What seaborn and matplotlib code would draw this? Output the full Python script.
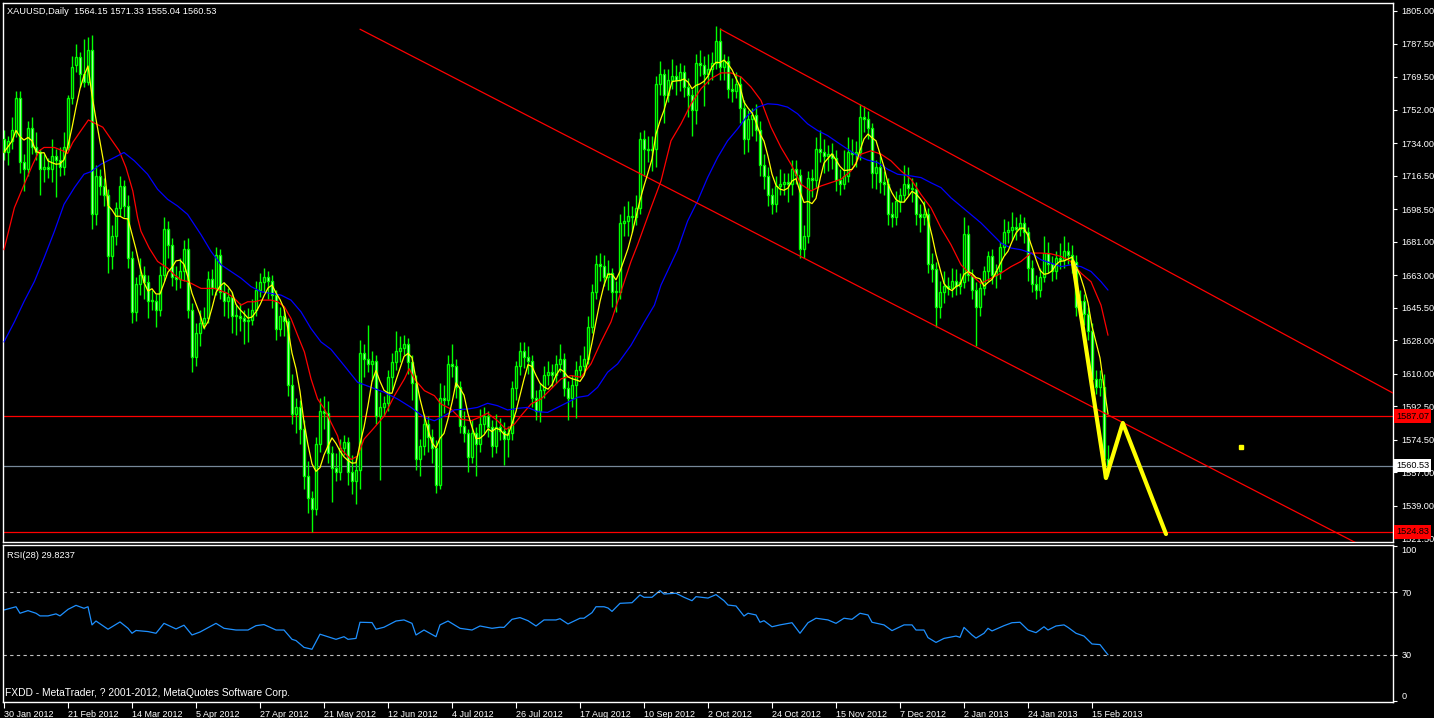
import numpy as np
import pandas as pd
import matplotlib
matplotlib.use("Agg")
import matplotlib.pyplot as plt
import matplotlib.transforms as mtransforms
import seaborn as sns

sns.set_theme(style="dark", rc={"axes.facecolor": "black", "figure.facecolor": "black",
                                "axes.edgecolor": "white", "axes.grid": False})
plt.rcParams['font.family'] = ['Liberation Sans', 'DejaVu Sans']

LIME = '#00ff00'

# XAUUSD daily candles, bar 0 = 30 Jan 2012 ... bar 276 = 21 Feb 2013
opens = [1736, 1729, 1735, 1740, 1758, 1724, 1720, 1742, 1732, 1729,
         1720, 1721, 1720, 1727, 1725, 1721, 1732, 1758, 1776, 1780,
         1771, 1767, 1784, 1696, 1716, 1711, 1706, 1673, 1684, 1699,
         1711, 1700, 1672, 1643, 1658, 1663, 1659, 1649, 1649, 1644,
         1663, 1688, 1679, 1662, 1661, 1665, 1677, 1644, 1619, 1632,
         1637, 1640, 1661, 1656, 1674, 1654, 1649, 1651, 1641, 1641,
         1640, 1638, 1639, 1644, 1655, 1659, 1662, 1660, 1652, 1634,
         1641, 1638, 1604, 1588, 1592, 1580, 1555, 1543, 1537, 1572,
         1590, 1589, 1567, 1559, 1557, 1570, 1573, 1557, 1552, 1558,
         1621, 1618, 1615, 1617, 1587, 1592, 1594, 1608, 1616, 1622,
         1624, 1626, 1616, 1605, 1564, 1571, 1583, 1576, 1570, 1550,
         1597, 1596, 1615, 1614, 1603, 1582, 1578, 1565, 1578, 1572,
         1583, 1587, 1581, 1571, 1581, 1579, 1575, 1578, 1602, 1614,
         1622, 1619, 1617, 1597, 1590, 1601, 1609, 1611, 1609, 1615,
         1618, 1602, 1597, 1604, 1612, 1614, 1618, 1635, 1654, 1669,
         1668, 1662, 1664, 1654, 1654, 1691, 1692, 1695, 1694, 1699,
         1736, 1731, 1730, 1731, 1766, 1771, 1760, 1768, 1770, 1768,
         1772, 1764, 1760, 1752, 1777, 1776, 1771, 1774, 1777, 1789,
         1775, 1778, 1763, 1762, 1766, 1753, 1736, 1747, 1749, 1741,
         1722, 1716, 1706, 1701, 1711, 1712, 1713, 1712, 1720, 1717,
         1677, 1684, 1715, 1714, 1731, 1729, 1727, 1728, 1726, 1714,
         1712, 1716, 1729, 1728, 1729, 1748, 1747, 1742, 1718, 1721,
         1713, 1712, 1696, 1694, 1703, 1706, 1712, 1710, 1709, 1696,
         1694, 1696, 1669, 1666, 1646, 1654, 1657, 1656, 1660, 1657,
         1659, 1685, 1663, 1655, 1646, 1656, 1665, 1673, 1663, 1665,
         1678, 1686, 1687, 1689, 1688, 1691, 1686, 1667, 1658, 1655,
         1662, 1675, 1669, 1665, 1672, 1671, 1676, 1674, 1670, 1646,
         1649, 1642, 1633, 1607, 1603, 1603, 1564.15]
highs = [1741, 1738, 1748, 1762, 1762, 1728, 1746, 1748, 1740, 1731,
         1728, 1726, 1736, 1731, 1732, 1740, 1760, 1781, 1787, 1783,
         1790, 1791, 1792, 1722, 1720, 1715, 1709, 1690, 1702, 1716,
         1714, 1706, 1676, 1662, 1672, 1668, 1663, 1655, 1653, 1668,
         1694, 1692, 1683, 1668, 1672, 1682, 1683, 1648, 1637, 1644,
         1646, 1665, 1666, 1678, 1677, 1659, 1656, 1654, 1647, 1648,
         1644, 1645, 1650, 1660, 1664, 1667, 1665, 1663, 1655, 1646,
         1644, 1640, 1610, 1597, 1596, 1585, 1563, 1547, 1576, 1597,
         1598, 1595, 1571, 1567, 1575, 1577, 1576, 1566, 1565, 1628,
         1626, 1636, 1622, 1620, 1600, 1598, 1612, 1621, 1633, 1630,
         1631, 1629, 1620, 1609, 1575, 1588, 1587, 1580, 1574, 1605,
         1604, 1620, 1626, 1618, 1606, 1590, 1580, 1585, 1581, 1591,
         1592, 1590, 1585, 1588, 1586, 1584, 1582, 1606, 1617, 1627,
         1627, 1625, 1620, 1601, 1605, 1614, 1617, 1615, 1620, 1626,
         1621, 1606, 1609, 1617, 1620, 1625, 1641, 1658, 1674, 1675,
         1674, 1671, 1667, 1660, 1696, 1700, 1703, 1700, 1706, 1740,
         1741, 1738, 1738, 1770, 1778, 1774, 1774, 1779, 1776, 1777,
         1776, 1769, 1763, 1782, 1784, 1781, 1782, 1783, 1797, 1796,
         1782, 1781, 1769, 1772, 1770, 1757, 1752, 1753, 1755, 1746,
         1728, 1721, 1710, 1716, 1720, 1718, 1718, 1725, 1725, 1720,
         1690, 1719, 1720, 1737, 1741, 1736, 1733, 1734, 1730, 1720,
         1730, 1737, 1736, 1735, 1755, 1754, 1751, 1745, 1725, 1727,
         1719, 1715, 1702, 1708, 1710, 1722, 1721, 1715, 1713, 1701,
         1703, 1699, 1675, 1670, 1660, 1665, 1662, 1667, 1666, 1664,
         1694, 1690, 1666, 1659, 1660, 1668, 1676, 1677, 1669, 1681,
         1693, 1692, 1697, 1694, 1696, 1694, 1689, 1671, 1663, 1667,
         1684, 1681, 1673, 1676, 1680, 1684, 1681, 1679, 1674, 1655,
         1653, 1646, 1637, 1612, 1612, 1610, 1571.33]
lows = [1725, 1722, 1731, 1737, 1718, 1708, 1716, 1728, 1725, 1706,
        1713, 1715, 1713, 1705, 1716, 1717, 1730, 1755, 1772, 1764,
        1764, 1765, 1688, 1690, 1706, 1700, 1664, 1666, 1679, 1695,
        1694, 1667, 1637, 1638, 1652, 1650, 1640, 1644, 1635, 1641,
        1660, 1672, 1657, 1655, 1656, 1660, 1640, 1611, 1614, 1625,
        1634, 1637, 1652, 1652, 1650, 1641, 1640, 1632, 1631, 1633,
        1626, 1627, 1636, 1641, 1651, 1654, 1650, 1645, 1628, 1630,
        1630, 1598, 1583, 1578, 1572, 1548, 1535, 1525, 1534, 1568,
        1580, 1562, 1541, 1552, 1553, 1566, 1550, 1545, 1540, 1548,
        1608, 1611, 1606, 1583, 1553, 1587, 1590, 1601, 1612, 1616,
        1620, 1610, 1596, 1558, 1555, 1566, 1568, 1562, 1546, 1548,
        1589, 1593, 1608, 1597, 1578, 1573, 1557, 1562, 1555, 1568,
        1578, 1576, 1565, 1567, 1574, 1561, 1565, 1574, 1596, 1609,
        1613, 1610, 1592, 1585, 1584, 1597, 1604, 1603, 1605, 1611,
        1598, 1585, 1592, 1586, 1608, 1610, 1615, 1632, 1650, 1660,
        1657, 1655, 1646, 1643, 1650, 1684, 1684, 1686, 1690, 1696,
        1716, 1724, 1719, 1721, 1760, 1745, 1756, 1763, 1760, 1762,
        1759, 1748, 1738, 1744, 1770, 1754, 1766, 1768, 1774, 1768,
        1768, 1758, 1756, 1758, 1745, 1728, 1729, 1738, 1735, 1716,
        1709, 1700, 1696, 1697, 1706, 1706, 1702, 1706, 1712, 1672,
        1672, 1680, 1705, 1710, 1724, 1718, 1719, 1720, 1708, 1706,
        1709, 1713, 1722, 1721, 1725, 1740, 1736, 1710, 1709, 1707,
        1706, 1690, 1689, 1690, 1697, 1702, 1706, 1702, 1690, 1686,
        1690, 1664, 1659, 1635, 1640, 1648, 1652, 1651, 1652, 1653,
        1656, 1660, 1650, 1625, 1641, 1652, 1660, 1658, 1656, 1661,
        1674, 1680, 1682, 1682, 1684, 1680, 1660, 1654, 1650, 1651,
        1659, 1664, 1660, 1661, 1666, 1667, 1669, 1664, 1641, 1640,
        1636, 1628, 1598, 1599, 1598, 1554, 1555.04]
closes = [1729, 1735, 1741, 1758, 1724, 1720, 1742, 1732, 1729, 1720,
          1721, 1720, 1727, 1725, 1721, 1732, 1758, 1775, 1780, 1771,
          1767, 1784, 1696, 1716, 1711, 1706, 1673, 1684, 1699, 1711,
          1700, 1672, 1643, 1658, 1663, 1659, 1649, 1649, 1644, 1663,
          1688, 1679, 1662, 1661, 1665, 1677, 1644, 1619, 1632, 1637,
          1640, 1661, 1656, 1674, 1654, 1649, 1651, 1641, 1641, 1640,
          1638, 1639, 1644, 1655, 1659, 1662, 1660, 1652, 1634, 1641,
          1638, 1604, 1588, 1592, 1580, 1555, 1543, 1537, 1572, 1590,
          1589, 1567, 1559, 1557, 1570, 1573, 1557, 1552, 1558, 1621,
          1618, 1615, 1617, 1587, 1592, 1594, 1608, 1616, 1622, 1624,
          1626, 1616, 1605, 1564, 1571, 1583, 1576, 1570, 1550, 1597,
          1596, 1615, 1614, 1603, 1582, 1578, 1565, 1578, 1572, 1583,
          1587, 1581, 1571, 1581, 1579, 1575, 1578, 1602, 1614, 1622,
          1619, 1617, 1597, 1590, 1601, 1609, 1611, 1609, 1615, 1618,
          1602, 1597, 1604, 1612, 1614, 1618, 1635, 1654, 1669, 1668,
          1662, 1664, 1654, 1654, 1691, 1692, 1695, 1694, 1699, 1736,
          1731, 1730, 1731, 1766, 1771, 1760, 1768, 1770, 1768, 1772,
          1764, 1760, 1752, 1777, 1776, 1771, 1774, 1777, 1789, 1775,
          1778, 1763, 1762, 1766, 1753, 1736, 1747, 1749, 1741, 1722,
          1716, 1706, 1701, 1711, 1712, 1713, 1712, 1720, 1717, 1677,
          1684, 1715, 1714, 1731, 1729, 1727, 1728, 1726, 1714, 1712,
          1716, 1729, 1728, 1729, 1748, 1747, 1742, 1718, 1721, 1713,
          1712, 1696, 1694, 1703, 1706, 1712, 1710, 1709, 1696, 1694,
          1696, 1669, 1666, 1646, 1654, 1657, 1656, 1660, 1657, 1659,
          1685, 1663, 1655, 1646, 1656, 1665, 1673, 1663, 1665, 1678,
          1686, 1687, 1689, 1688, 1691, 1686, 1667, 1658, 1655, 1662,
          1675, 1669, 1665, 1672, 1671, 1676, 1674, 1670, 1646, 1649,
          1642, 1633, 1607, 1603, 1607, 1564, 1560.53]

# red and blue moving averages, read at sample bars
red_ma_x = [0, 2.6, 4.7, 7.2, 8.8, 10, 12.6, 14.7, 15.9, 17.2, 19.25, 21.1, 23, 24.7, 26.75, 28.8,
            30.5, 32.2, 33.4, 34.25, 36.3, 38.4, 40.9, 42.6, 44.25, 45.9, 49.25, 52.6, 55.9, 57.6,
            59.25, 60.9, 62.6, 64.25, 66.75, 68.4, 70.1, 71.75, 73.4, 75.1, 76.75, 78.4, 80.1, 81.75,
            83.4, 84.25, 86.75, 88.4, 90, 92.6, 95.1, 97.6, 100.1, 101.3, 102.6, 105.1, 107.6, 109.25,
            111.75, 114.25, 116.75, 118.8, 120.9, 123.4, 125.5, 127.6, 129.25, 131.75, 134.25, 136.75,
            139.25, 141.75, 144.25, 146.75, 149.25, 151.75, 154.25, 156.75, 158.4, 161.75, 164.25,
            166.75, 169.25, 171.75, 174.25, 176.75, 179.25, 181.75, 184.25, 186.75, 189.25, 191.75,
            194.25, 196.75, 199.25, 201.75, 204.25, 206.75, 209.25, 211.75, 214.25, 216.75, 219.25,
            221.75, 224.25, 226.75, 229.25, 231.75, 234.25, 236.75, 239.25, 241.75, 244.25, 246.75,
            249.25, 251.75, 254.25, 256.75, 259.25, 261.75, 264.25, 266.75, 269.25, 271.75, 274.25, 276]
red_ma_y = [1676.6, 1699.2, 1710, 1722.6, 1729.8, 1731.6, 1731.6, 1729.8, 1728.4, 1734.3, 1740.7,
            1746.4, 1744.3, 1742.5, 1736.1, 1729.8, 1720.8, 1708.2, 1693.8, 1686.5, 1677.5, 1670.3,
            1666.7, 1663.1, 1660.4, 1659.5, 1655.8, 1655.8, 1653.1, 1650.4, 1646.8, 1648.6, 1648.6,
            1649.5, 1649.5, 1648.6, 1645.9, 1639.6, 1630.6, 1621.6, 1607.2, 1596.3, 1591, 1583.7,
            1576.5, 1569.3, 1563.8, 1565.6, 1574.7, 1581, 1587.3, 1598.1, 1607.1, 1612.6, 1607.1,
            1600.8, 1598.1, 1593.6, 1590.9, 1585.5, 1584.6, 1586.4, 1588.7, 1584.6, 1580, 1582.8,
            1587.3, 1593.6, 1596.3, 1601.7, 1607.1, 1608.9, 1608, 1615.2, 1627, 1637.8, 1654, 1670.3,
            1679.3, 1699.2, 1713.6, 1735.2, 1744.3, 1755, 1763.2, 1768.6, 1771.7, 1771.7, 1769.5,
            1764.1, 1756.9, 1742.5, 1731.6, 1722.6, 1711.8, 1708.2, 1710.9, 1712.7, 1714.5, 1719,
            1728, 1729.8, 1728, 1724.4, 1719, 1714.5, 1706.3, 1699.1, 1688.3, 1679.3, 1668.5, 1663,
            1658.5, 1661.2, 1664, 1667.5, 1670.3, 1674.8, 1674.8, 1674.4, 1673, 1670.3, 1664, 1659.4,
            1646.8, 1630.6]
blue_ma_x = [0, 2.6, 5, 7.6, 10, 12.6, 15, 17.6, 20, 21.75, 24.25, 27.6, 30, 32.6, 35.9, 38.4, 40.9,
             43.4, 45.9, 49.25, 51.75, 54.25, 56.75, 59.25, 61.75, 64.25, 66.75, 69.25, 71.75, 74.25,
             76.75, 79.25, 81.75, 85, 88.4, 91.75, 95.1, 98.4, 101.75, 105.1, 107.6, 110.1, 112.6,
             115.9, 118.4, 120.9, 123.4, 125.9, 128.4, 130.9, 133.4, 135.9, 138.4, 140.9, 143.4, 146,
             148.4, 150.9, 153.4, 156.75, 160.1, 162.6, 164.25, 168.4, 170.9, 173.4, 175.9, 178.4,
             180.9, 183.4, 185.9, 188.4, 190.9, 193.4, 195.9, 198.4, 200.9, 203.4, 205.9, 208.4, 210.9,
             213.4, 215.9, 218.4, 220.9, 223.4, 226.75, 229.25, 231.75, 234.25, 236.75, 239.25, 241.75,
             244.25, 246.75, 249.25, 251.75, 254.25, 256.75, 259.25, 261.75, 264.25, 266.75, 269.25,
             271.75, 274.25, 276]
blue_ma_y = [1627, 1637.8, 1648.7, 1659.5, 1672.1, 1686.5, 1701, 1710, 1717.2, 1718.6, 1722.6, 1726.2,
             1728.9, 1724.4, 1717.2, 1709.1, 1703.7, 1700.1, 1695.6, 1684.7, 1675.7, 1668.5, 1664.9,
             1661.3, 1656.8, 1654, 1653.1, 1652.2, 1649.5, 1643.2, 1634.2, 1627, 1623, 1614.4, 1605.3,
             1602.6, 1599.9, 1596.3, 1591.8, 1586.4, 1584.6, 1587.3, 1590.5, 1590.9, 1591.8, 1594,
             1592.7, 1590.4, 1591.3, 1591.8, 1589.5, 1589.1, 1591.8, 1594.5, 1597.2, 1598.1, 1602.6,
             1610.7, 1615.2, 1625.2, 1637.8, 1646.8, 1657.6, 1676.6, 1692, 1702.8, 1715.4, 1726.2,
             1735.2, 1741.6, 1748.8, 1753.3, 1755.1, 1754.7, 1753.3, 1749.7, 1744.3, 1740.7, 1738,
             1734.3, 1730.7, 1727.1, 1724.8, 1723.5, 1719.9, 1717.2, 1716.3, 1715.4, 1712.6, 1710,
             1704.5, 1700, 1695.5, 1691, 1685.6, 1680.2, 1677.5, 1676.6, 1674.8, 1671.2, 1669.4,
             1667.5, 1668.5, 1667.5, 1664.9, 1659.4, 1654.9]

# RSI(28) read at sample bars
rsi_x = [0, 3, 4, 6, 8, 9, 11, 13, 14, 16, 18, 20, 21, 22, 23, 26, 29, 31, 32, 33,
         36, 38, 40, 43, 45, 47, 49, 51, 53, 55, 58, 61, 63, 65, 68, 70, 72, 73, 75, 77,
         79, 83, 85, 86, 88, 89, 92, 93, 95, 98, 100, 102, 103, 105, 108, 109, 111, 114, 117, 119,
         122, 124, 125, 127, 129, 131, 133, 135, 138, 139, 141, 144, 145, 147, 148, 150, 151, 152, 154, 157,
         159, 160, 162, 164, 165, 168, 170, 172, 173, 176, 178, 180, 181, 183, 185, 186, 188, 189, 190, 192,
         194, 197, 199, 201, 203, 206, 208, 210, 212, 214, 216, 217, 220, 222, 225, 227, 228, 230, 231, 233,
         235, 238, 239, 240, 242, 243, 245, 246, 247, 250, 252, 254, 256, 258, 260, 261, 263, 265, 266, 268,
         270, 272, 274, 276]
rsi_y = [58.7, 60.8, 56.6, 58.3, 56.6, 54.9, 54.9, 56.2, 54.9, 59.1, 61.7, 59.8, 60.8, 49.1, 51.6, 46.3, 51.0, 46.9, 43.7, 45.5,
         44.8, 43.7, 50.1, 46.5, 48.9, 42.6, 44.5, 47.3, 50.1, 46.9, 45.8, 45.8, 48.6, 49.3, 45.8, 45.8, 39.8, 39.0, 34.6, 33.4,
         43.1, 39.8, 41.5, 39.8, 40.4, 50.8, 50.6, 46.3, 47.6, 51.6, 52.3, 50.1, 42.6, 45.8, 41.5, 49.1, 51.6, 46.9, 45.8, 48.4,
         46.9, 47.6, 47.5, 52.7, 53.8, 51.8, 48.4, 52.3, 52.3, 53.1, 49.7, 53.4, 53.4, 57.0, 60.8, 60.8, 60.0, 57.8, 63.0, 63.4,
         68.4, 66.9, 66.9, 71.2, 69.0, 69.5, 66.9, 64.7, 67.3, 66.4, 68.6, 64.7, 61.9, 61.3, 54.8, 56.6, 55.5, 50.8, 51.8, 47.9,
         49.1, 50.5, 43.7, 50.5, 53.4, 52.3, 50.1, 53.4, 52.7, 56.6, 55.5, 50.8, 49.1, 45.4, 49.1, 49.1, 45.8, 45.8, 40.9, 37.8,
         40.4, 41.9, 41.1, 47.5, 42.6, 40.6, 43.7, 46.9, 45.2, 48.6, 50.5, 50.8, 45.8, 44.1, 47.9, 45.8, 48.4, 49.1, 47.5, 43.7,
         41.9, 36.8, 36.4, 29.82]

# drawn objects
channel_upper_x = [179.1, 347.25]
channel_upper_y = [1795.2, 1599.5]
channel_lower_x = [89.0, 347.25]
channel_lower_y = [1795.2, 1508.7]
zigzag_x = [267.2, 275.5, 279.7, 290.5]
zigzag_y = [1670.1, 1553.8, 1583.4, 1523.7]
dot_x = [309.25]
dot_y = [1570.5]
red_levels = [1587.07, 1524.83]
bid_level = 1560.53

price_ticks = [1805.00, 1787.50, 1769.50, 1752.00, 1734.00, 1716.50, 1698.50, 1681.00, 1663.00,
               1645.50, 1628.00, 1610.00, 1592.50, 1574.50, 1557.00, 1539.00, 1521.50]
date_ticks = [0, 16, 32, 48, 64, 80, 96, 112, 128, 144, 160, 176, 192, 208, 224, 240, 256, 272]
date_labels = ['30 Jan 2012', '21 Feb 2012', '14 Mar 2012', '5 Apr 2012', '27 Apr 2012', '21 May 2012',
               '12 Jun 2012', '4 Jul 2012', '26 Jul 2012', '17 Aug 2012', '10 Sep 2012', '2 Oct 2012',
               '24 Oct 2012', '15 Nov 2012', '7 Dec 2012', '2 Jan 2013', '24 Jan 2013', '15 Feb 2013']

W, H = 1434, 718
fig = plt.figure(figsize=(W / 100, H / 100), dpi=100)
ax = fig.add_axes([3 / W, 1 - 542 / H, 1390 / W, 539 / H])
rsi_ax = fig.add_axes([3 / W, 1 - 702 / H, 1390 / W, 157 / H], sharex=ax)

o = np.array(opens, float)
h = np.array(highs, float)
l = np.array(lows, float)
c = np.array(closes, float)
x = np.arange(len(c))
up = c >= o

# candles: lime wicks/outline, bull = black body, bear = white body
ax.vlines(x, l, h, color=LIME, lw=1.0, zorder=2)
body = np.maximum(np.abs(c - o), 0.4)
ax.bar(x, body, bottom=np.minimum(o, c), width=0.55,
       color=np.where(up, 'black', 'white'), edgecolor=LIME, linewidth=1.0, zorder=3)

# moving averages
yellow_ma = pd.Series(c).rolling(5, min_periods=1).mean()
sns.lineplot(x=x, y=yellow_ma, ax=ax, color='#ffff00', lw=0.9, estimator=None, zorder=5)
sns.lineplot(x=red_ma_x, y=red_ma_y, ax=ax, color='#ff0000', lw=0.9, estimator=None, zorder=4)
sns.lineplot(x=blue_ma_x, y=blue_ma_y, ax=ax, color='#0000ff', lw=0.9, estimator=None, zorder=4)

# channel, levels, drawn zigzag
sns.lineplot(x=channel_upper_x, y=channel_upper_y, ax=ax, color='#ff0000', lw=0.9, estimator=None, zorder=4)
sns.lineplot(x=channel_lower_x, y=channel_lower_y, ax=ax, color='#ff0000', lw=0.9, estimator=None, zorder=4)
for lv in red_levels:
    ax.axhline(lv, color='#ff0000', lw=0.9, zorder=1)
ax.axhline(bid_level, color='#778899', lw=0.9, zorder=1)
sns.lineplot(x=zigzag_x, y=zigzag_y, ax=ax, color='#ffff00', lw=3.0, estimator=None, sort=False, zorder=6)
ax.plot(dot_x, dot_y, 's', color='#ffff00', ms=3, zorder=6)

ax.set_xlim(-0.25, 347.25)
ax.set_ylim(1519.4, 1809.3)
ax.set_xlabel('')
ax.set_ylabel('')
ax.yaxis.tick_right()
ax.set_yticks(price_ticks)
ax.set_yticklabels([f'{v:.2f}' for v in price_ticks])
ax.tick_params(axis='y', right=True, left=False, colors='white', labelcolor='white',
               length=3, width=0.8, labelsize=6.6, pad=3, direction='out')
ax.tick_params(axis='x', bottom=False, labelbottom=False)
for sp in ax.spines.values():
    sp.set_color('white')
    sp.set_linewidth(1.0)

# price boxes on the right scale
trans = mtransforms.blended_transform_factory(ax.transAxes, ax.transData)
for lv, fc in [(red_levels[0], '#ff0000'), (bid_level, 'white'), (red_levels[1], '#ff0000')]:
    ax.text(1.0 + 3 / 1390, lv, f'{lv:.2f}', transform=trans, ha='left', va='center', fontsize=6.6,
            color='black', clip_on=False, zorder=20,
            bbox=dict(boxstyle='square,pad=0.25', facecolor=fc, edgecolor='none'))

# RSI panel
sns.lineplot(x=rsi_x, y=rsi_y, ax=rsi_ax, color='#1e90ff', lw=0.9, estimator=None)
for lv in (70, 30):
    rsi_ax.axhline(lv, color='#c0c0c0', lw=0.8, ls=(0, (3, 3)))
rsi_ax.set_ylim(-0.6, 100.6)
rsi_ax.set_xlabel('')
rsi_ax.set_ylabel('')
rsi_ax.yaxis.tick_right()
rsi_ax.set_yticks([100, 70, 30, 0])
rsi_ax.set_yticklabels(['100', '70', '30', '0'])
rsi_ax.tick_params(axis='y', right=True, left=False, colors='white', labelcolor='white',
                   length=3, width=0.8, labelsize=6.6, pad=3)
ylbls = rsi_ax.get_yticklabels()
ylbls[0].set_va('top')
ylbls[-1].set_va('bottom')
rsi_ax.set_xticks(date_ticks)
rsi_ax.set_xticklabels(date_labels)
for lbl in rsi_ax.get_xticklabels():
    lbl.set_ha('left')
rsi_ax.tick_params(axis='x', bottom=True, colors='white', labelcolor='white',
                   length=4, width=0.8, labelsize=6.5, pad=1.5, direction='out')
for sp in rsi_ax.spines.values():
    sp.set_color('white')
    sp.set_linewidth(1.0)

fig.text(7 / W, 1 - 11 / H, 'XAUUSD,Daily  1564.15 1571.33 1555.04 1560.53', color='white',
         fontsize=6.7, ha='left', va='center')
fig.text(7 / W, 1 - 555 / H, 'RSI(28) 29.8237', color='white', fontsize=6.7, ha='left', va='center')
fig.text(5 / W, 1 - 693 / H, 'FXDD - MetaTrader, ? 2001-2012, MetaQuotes Software Corp.',
         color='white', fontsize=7.4, ha='left', va='center')

fig.savefig('out.png', dpi=100, facecolor='black')
